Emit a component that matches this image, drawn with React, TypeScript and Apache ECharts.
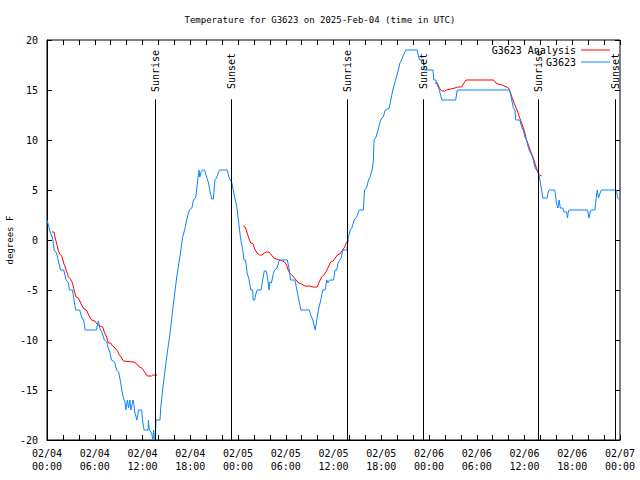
import React, { useEffect, useRef } from "react";
import * as echarts from "echarts";

const titleText = "Temperature for G3623 on 2025-Feb-04 (time in UTC)";
const yAxisName = "degrees F";
const seriesNames = ["G3623 Analysis", "G3623"];
const xTickLabels = [
  "02/04\n00:00", "02/04\n06:00", "02/04\n12:00", "02/04\n18:00",
  "02/05\n00:00", "02/05\n06:00", "02/05\n12:00", "02/05\n18:00",
  "02/06\n00:00", "02/06\n06:00", "02/06\n12:00", "02/06\n18:00",
  "02/07\n00:00",
];

// hours since 02/04 00:00 UTC
const obsHours = [
  0, 0.4, 0.7, 0.9, 1.2, 1.4, 1.7, 2.1, 2.4, 2.7, 2.8, 3.2, 3.4, 3.6, 4.1, 4.4, 4.6, 4.8, 6.2, 6.45,
  6.7, 6.9, 7.2, 7.5, 7.7, 7.9, 8.1, 8.5, 8.75, 9.0, 9.2, 9.4, 9.6, 9.8, 9.9, 10.1, 10.25, 10.4, 10.55, 10.8,
  10.9, 11.05, 11.3, 11.5, 11.9, 12.0, 12.2, 12.7, 12.75, 12.85, 13.15, 13.3, 13.4, 13.5, 13.6, 13.7, 14.2, 14.3, 14.6, 15.0,
  15.45, 15.9, 16.3, 16.7, 17.05, 17.35, 17.6, 17.9, 18.2, 18.4, 18.7, 18.9, 19.1, 19.2, 19.4, 19.6, 19.8, 20.05, 20.3, 20.5,
  20.7, 20.9, 21.1, 21.3, 21.65, 22.65, 22.9, 23.2, 23.4, 23.85, 24.05, 24.3, 24.6, 24.75, 24.95, 25.15, 25.4, 25.6, 25.85, 25.9,
  26.1, 26.2, 26.4, 26.9, 27.1, 27.3, 27.55, 27.75, 27.9, 28.0, 28.2, 28.4, 28.6, 28.9, 29.2, 30.2, 30.45, 30.6, 31.15, 31.4,
  31.6, 31.9, 32.95, 33.15, 33.4, 33.7, 33.9, 34.1, 34.4, 34.65, 34.95, 35.15, 35.3, 35.5, 36.0, 36.2, 36.4, 36.6, 36.8, 37.0,
  37.15, 37.7, 37.85, 38.1, 38.3, 38.6, 38.9, 39.25, 39.75, 39.9, 40.15, 40.4, 40.6, 40.85, 41.0, 41.1, 41.35, 41.6, 41.85, 42.05,
  42.25, 42.5, 43.0, 43.2, 43.45, 43.7, 43.9, 44.15, 44.35, 44.55, 44.8, 45.1, 46.5, 46.8, 47.3, 47.4, 48.5, 48.6, 48.85, 49.05,
  49.3, 49.6, 51.35, 51.55, 58.1, 58.2, 58.4, 58.6, 58.8, 58.9, 59.4, 59.65, 59.85, 60.05, 60.25, 60.5, 60.7, 60.9, 61.1, 61.3,
  61.5, 61.75, 61.95, 62.15, 62.3, 62.85, 62.95, 63.1, 63.8, 63.95, 64.0, 64.2, 64.35, 64.5, 64.8, 64.95, 65.3, 65.4, 65.5, 65.6,
  67.9, 68.0, 68.1, 68.25, 68.4, 68.85, 69.0, 69.15, 69.3, 69.5, 69.65, 71.55, 71.7, 72,
];
const obsTemps = [
  2, 0.8, 0.2, -1, -1.3, -2, -3, -3, -4, -4.3, -5, -5, -6, -7, -7, -7.8, -8, -9, -9, -8.1,
  -9, -9.2, -10, -10.2, -10.8, -11.2, -12, -12.2, -13, -13.2, -14, -15, -15.8, -16.2, -17, -16, -16.8, -16, -17, -16,
  -16.3, -17.3, -18, -17, -17, -18, -19, -19, -18, -19, -19.3, -20, -19, -20, -20, -18, -18, -16.7, -14.5, -11.9,
  -9.4, -6.3, -3.7, -1.7, 0.3, 1.2, 2.2, 3, 3.2, 4, 4.3, 5.7, 7, 6.3, 6.9, 7, 7, 6.3, 5.7, 4.8,
  4.1, 4.1, 6, 6.2, 7, 7, 6.2, 5.8, 5, 3.3, 2, 0.3, -1, -2, -2, -3.3, -4, -5, -5, -6,
  -6, -5.5, -5, -5, -4, -3.1, -3.1, -4, -5, -4.2, -4.3, -3.5, -3, -2.8, -2, -2, -3, -4, -4, -5,
  -5.8, -7, -7, -7.5, -8, -9, -8, -7, -6, -5, -5, -4, -4.3, -4, -4, -3, -3, -2.2, -2, -1.7,
  -1, -1, 0.2, 1, 1.2, 2, 2.3, 3, 3, 5, 5.2, 6, 6.3, 7, 7.8, 10, 10.3, 11, 11.8, 12.2,
  12.3, 13, 13.2, 14, 15, 15.7, 16.3, 17, 17.7, 18, 18.5, 19, 19, 18, 18, 17, 17, 16, 16, 15.5,
  15, 14, 14, 15, 15, 14.8, 14, 13.2, 13, 12, 12, 11.3, 11, 10.3, 10, 9.2, 8.8, 8.5, 8, 7.3,
  7, 6.7, 6, 5, 4.2, 4.2, 4.7, 5, 5, 4.2, 3.7, 3.2, 4, 3.2, 3.2, 2.8, 2.8, 2.2, 2.8, 3,
  3, 2.7, 2.2, 2.8, 3, 3, 4.2, 5, 4.2, 4.7, 5, 5, 4.2, 4,
];

// analysis (null = no analysis available)
const anaHours = [
  0.6, 0.9, 1.0, 1.2, 1.4, 1.6, 1.85, 2.1, 2.4, 2.7, 2.95, 3.2, 3.4, 3.65, 3.95, 4.35, 4.65, 4.95, 5.3, 5.6,
  6.0, 6.3, 6.65, 7.0, 7.2, 7.5, 7.7, 8.0, 8.25, 8.55, 8.85, 9.1, 9.4, 9.6, 10.9, 11.3, 11.6, 11.9, 12.1, 12.35,
  12.6, 13.15, 13.3, 13.85, 14.0,
  24.65, 24.9, 25.15, 25.4, 25.6, 25.9, 26.1, 26.4, 26.7, 27.0, 27.3, 27.6, 27.9, 28.2, 28.5, 28.8, 29.2, 29.6, 29.85, 30.1,
  30.3, 30.5, 30.75, 31.0, 31.3, 31.6, 32.0, 32.4, 33.0, 33.45, 33.95, 34.2, 34.5, 34.8, 35.05, 35.35, 35.65, 35.95, 36.2, 36.5,
  36.8, 37.15, 37.4, 37.6, 37.85, 38.0,
  48.75, 49.05, 49.3, 49.6, 49.95, 50.2, 50.7, 51.25, 51.6, 52.1, 52.4, 52.65, 56.1, 56.4, 56.7, 57.2, 57.75, 58.0, 58.25, 58.45,
  58.7, 58.95, 59.2, 59.4, 59.65, 59.85, 60.05, 60.25, 60.5, 60.7, 60.9, 61.1, 61.3, 61.5, 61.7, 61.9, 62.15,
];
const anaTemps = [
  0.8, 0.8, 0.3, -0.3, -1, -1.4, -1.6, -2.3, -3, -3.7, -3.9, -4.3, -5, -5.7, -5.8, -6.5, -6.9, -7, -7.6, -8,
  -8.1, -8.4, -8.6, -8.7, -9.2, -9.7, -10.3, -10.3, -10.6, -10.8, -11.1, -11.5, -11.8, -12.1, -12.2, -12.4, -12.7, -12.8, -13, -13.3,
  -13.6, -13.6, -13.5, -13.5, null,
  1.4, 1.3, 0.7, 0.1, -0.3, -0.4, -0.9, -1.3, -1.5, -1.5, -1.3, -1.2, -1.2, -1.5, -1.8, -1.9, -2, -2.1, -2.2, -2.5,
  -3, -3.3, -3.5, -3.7, -4, -4.3, -4.4, -4.6, -4.6, -4.7, -4.7, -4.2, -3.7, -3.5, -3.2, -2.7, -2.2, -2.1, -1.8, -1.5,
  -1.4, -1, -0.7, -0.3, 0, null,
  15.7, 15.7, 15.2, 14.9, 14.9, 15, 15.1, 15.2, 15.3, 15.3, 15.7, 16, 16, 15.7, 15.6, 15.5, 15.3, 15.2, 14.7, 14.2,
  13.7, 13.2, 12.7, 12.2, 11.7, 11.2, 10.7, 10, 9.5, 9, 8.6, 8.2, 7.7, 7.2, 6.7, 6.5, 6.4,
];

const sunEventNames = ["Sunrise", "Sunset", "Sunrise", "Sunset", "Sunrise", "Sunset"];
const sunEventHours = [13.61, 23.16, 37.74, 47.29, 61.74, 71.42];
const sunLineTop = 14.07;
const sunLabelY = 16.9;

const FONT = "DejaVu Sans Mono";

export default function App() {
  const ref = useRef<HTMLDivElement>(null);
  useEffect(() => {
    if (!ref.current) return;
    const chart = echarts.init(ref.current, undefined, { renderer: "svg" });
    const obsData = obsHours.map((h, i) => [h, obsTemps[i]]);
    const anaData = anaHours.map((h, i) => [h, anaTemps[i]]);
    const markLines = sunEventHours.map((h) => [
      { coord: [h, -20] },
      { coord: [h, sunLineTop] },
    ]);
    const markPoints = sunEventHours.map((h, i) => ({
      name: sunEventNames[i],
      coord: [h, sunLabelY],
    }));
    const tickStyle = { inside: true, length: 5, lineStyle: { color: "#000", width: 1 } };
    const legendCommon = {
      right: 30,
      padding: 0,
      align: "right",
      icon: "rect",
      itemWidth: 29,
      itemHeight: 1,
      textStyle: { fontFamily: FONT, fontSize: 10, color: "#000" },
      selectedMode: false,
    };
    chart.setOption({
      animation: false,
      backgroundColor: "#fff",
      title: {
        text: titleText,
        left: "center",
        top: 10,
        textStyle: { fontFamily: FONT, fontSize: 9, fontWeight: "normal", color: "#000" },
      },
      legend: [
        { ...legendCommon, data: [seriesNames[0]], top: 45 },
        { ...legendCommon, data: [seriesNames[1]], top: 57 },
      ],
      grid: {
        left: 47,
        right: 20,
        top: 40,
        bottom: 40,
        show: true,
        borderColor: "#000",
        borderWidth: 1,
        backgroundColor: "transparent",
        outerBoundsMode: "none",
        containLabel: false,
      },
      xAxis: [
        {
          type: "value",
          min: 0,
          max: 72,
          interval: 2,
          position: "bottom",
          axisLine: { show: true, onZero: false, lineStyle: { color: "#000" } },
          axisTick: tickStyle,
          splitLine: { show: false },
          axisLabel: {
            fontFamily: FONT,
            fontSize: 10,
            color: "#000",
            lineHeight: 13,
            margin: 7,
            formatter: (v: number) => (v % 6 === 0 ? xTickLabels[v / 6] : ""),
          },
        },
        {
          type: "value",
          min: 0,
          max: 72,
          interval: 2,
          position: "top",
          axisLine: { show: false, onZero: false },
          axisTick: tickStyle,
          splitLine: { show: false },
          axisLabel: { show: false },
        },
      ],
      yAxis: [
        {
          type: "value",
          min: -20,
          max: 20,
          interval: 5,
          position: "left",
          name: yAxisName,
          nameLocation: "middle",
          nameGap: 33,
          nameRotate: 90,
          nameMoveOverlap: false,
          nameTextStyle: { fontFamily: FONT, fontSize: 9, color: "#000" },
          axisLine: { show: true, onZero: false, lineStyle: { color: "#000" } },
          axisTick: tickStyle,
          splitLine: { show: false },
          axisLabel: { fontFamily: FONT, fontSize: 10, color: "#000", margin: 9 },
        },
        {
          type: "value",
          min: -20,
          max: 20,
          interval: 5,
          position: "right",
          axisLine: { show: false, onZero: false },
          axisTick: tickStyle,
          splitLine: { show: false },
          axisLabel: { show: false },
        },
      ],
      series: [
        {
          name: seriesNames[0],
          type: "line",
          data: anaData,
          symbol: "none",
          connectNulls: false,
          lineStyle: { color: "#ff0000", width: 1 },
          itemStyle: { color: "#ff0000" },
          markLine: {
            silent: true,
            symbol: ["none", "none"],
            label: { show: false },
            lineStyle: { color: "#000", width: 1, type: "solid" },
            data: markLines,
          },
          markPoint: {
            silent: true,
            symbol: "circle",
            symbolSize: 1,
            itemStyle: { color: "rgba(0,0,0,0)" },
            label: {
              show: true,
              position: "inside",
              rotate: 90,
              formatter: "{b}",
              fontFamily: FONT,
              fontSize: 10,
              color: "#000",
            },
            data: markPoints,
          },
        },
        {
          name: seriesNames[1],
          type: "line",
          data: obsData,
          symbol: "none",
          lineStyle: { color: "#0a84ff", width: 1 },
          itemStyle: { color: "#0a84ff" },
        },
      ],
    });
    return () => chart.dispose();
  }, []);
  return (
    <div
      ref={ref}
      style={{ position: "fixed", left: 0, top: 0, width: 640, height: 480 }}
    />
  );
}
